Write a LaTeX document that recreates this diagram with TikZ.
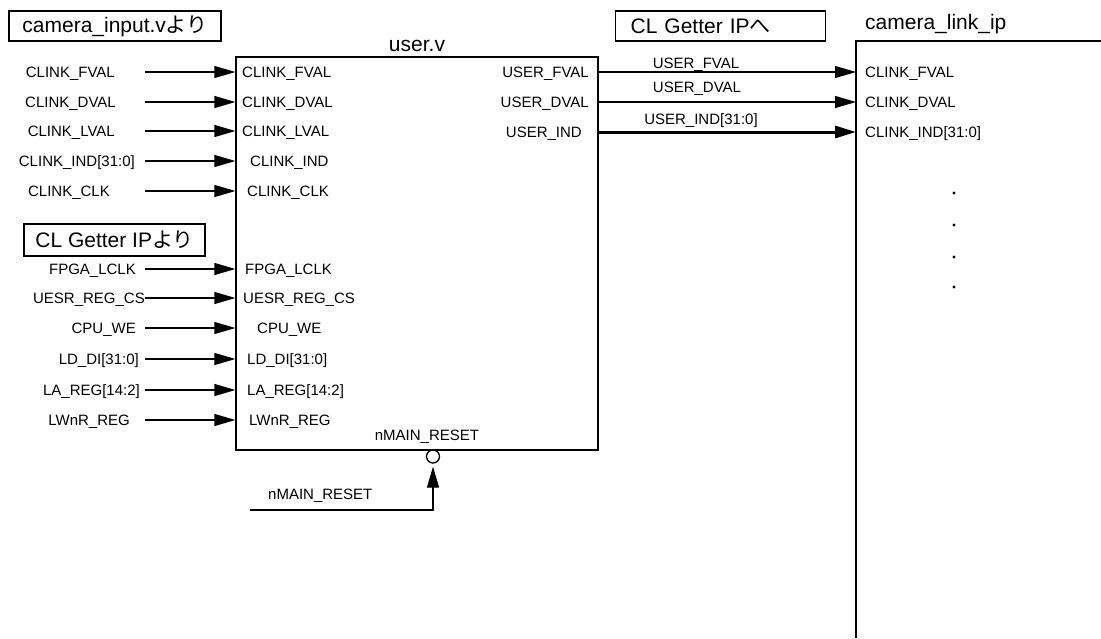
\documentclass[tikz,border=0pt]{standalone}
\usepackage{fontspec}
\setmainfont{Liberation Sans}
\newfontfamily\jp{Noto Sans CJK JP}
\usepackage{tikz}
\usetikzlibrary{arrows.meta}

\begin{document}
\begin{tikzpicture}[
        x=1pt, y=-1pt,
        sig/.style={font=\fontsize{15}{16}\selectfont, inner sep=0pt, text height=10.7pt, text depth=0pt},
        ttl/.style={font=\fontsize{21}{24}\selectfont, inner sep=0pt},
        tbox/.style={ttl, draw, line width=1.2pt, minimum height=30pt},
        wire/.style={-{Triangle[length=21pt, width=12pt]}, line width=1.3pt},
        bus/.style={wire, line width=3pt, line cap=round},
        dotmark/.style={circle, fill, inner sep=0pt, minimum size=3.2pt}
    ]
    \useasboundingbox (0,0) rectangle (1101,638);

    % Module user.v
    \node[draw, line width=1.3pt, minimum width=362pt, minimum height=393pt, inner sep=0pt] (user) at (417,253.5) {};
    \node[ttl, anchor=base] (usertitle) at (417,51) {user.v};

    % Source labels
    \node[tbox, minimum width=212pt] (srccam) at (115,26) {camera\_input.v{\jp より}};
    \node[tbox, minimum width=181pt, minimum height=32pt] (srccl) at (114.5,240) {CL Getter IP{\jp より}};

    % Inputs of user.v
    \foreach \n/\y/\lx/\txt/\px/\pin in {
        1/72/115/CLINK\_FVAL/242/CLINK\_FVAL,
        2/102/116/CLINK\_DVAL/242/CLINK\_DVAL,
        3/131/115/CLINK\_LVAL/242/CLINK\_LVAL,
        4/161/135/CLINK\_IND[31:0]/250/CLINK\_IND,
        5/191/110/CLINK\_CLK/247/CLINK\_CLK,
        6/269/136/FPGA\_LCLK/245/FPGA\_LCLK,
        7/298/145/UESR\_REG\_CS/243/UESR\_REG\_CS,
        8/328/136/CPU\_WE/257/CPU\_WE,
        9/359/139/LD\_DI[31:0]/247/LD\_DI[31:0],
        10/390/140/LA\_REG[14:2]/247/LA\_REG[14:2],
        11/420/130/LWnR\_REG/249/LWnR\_REG} {
        \node[sig, anchor=east] (in\n) at (\lx,\y) {\txt};
        \node[sig, anchor=west] (pin\n) at (\px,\y) {\pin};
        \coordinate (from\n) at (145,\y);
        \draw[wire] (from\n) -- (from\n -| user.west);
    }

    % Reset
    \node[sig] (rstpin) at (427,435) {nMAIN\_RESET};
    \node[circle, draw, line width=1.3pt, minimum size=13pt, inner sep=0pt] (rstbub) at (433,456.5) {};
    \node[sig, anchor=west] (rstin) at (268,494) {nMAIN\_RESET};
    \coordinate (rst) at (250,510);
    \draw[wire, shorten >=3pt] (rst) -| (rstbub.south);

    % camera_link_ip
    \coordinate (cam) at (856,41);
    \draw[line width=1.3pt] (856,638) -- (cam) -- (1101,41);
    \node[ttl, anchor=base west] (camtitle) at (865,29) {camera\_link\_ip};
    \node[tbox, anchor=west, text width=180pt, inner xsep=15pt, align=left] (dstcl) at (615,26) {CL Getter IP{\jp へ}};

    % Outputs of user.v
    \node[sig, anchor=east] (out1) at (589,72) {USER\_FVAL};
    \node[sig, anchor=east] (out2) at (589,102) {USER\_DVAL};
    \node[sig, anchor=east] (out3) at (582,132) {USER\_IND};
    \node[sig, anchor=west] (cin1) at (865,72) {CLINK\_FVAL};
    \node[sig, anchor=west] (cin2) at (865,102) {CLINK\_DVAL};
    \node[sig, anchor=west] (cin3) at (865,132) {CLINK\_IND[31:0]};
    \node[sig] (w1) at (696,63) {USER\_FVAL};
    \node[sig] (w2) at (697,87) {USER\_DVAL};
    \node[sig] (w3) at (701,119) {USER\_IND[31:0]};
    \draw[wire] (user.east |- out1) -- (cam |- out1);
    \draw[wire] (user.east |- out2) -- (cam |- out2);
    \draw[bus] (user.east |- out3) -- (cam |- out3);

    % Ellipsis dots
    \foreach \n/\y in {1/193, 2/225, 3/257, 4/287}
        \node[dotmark] (dot\n) at (954,\y) {};

\end{tikzpicture}
\end{document}
